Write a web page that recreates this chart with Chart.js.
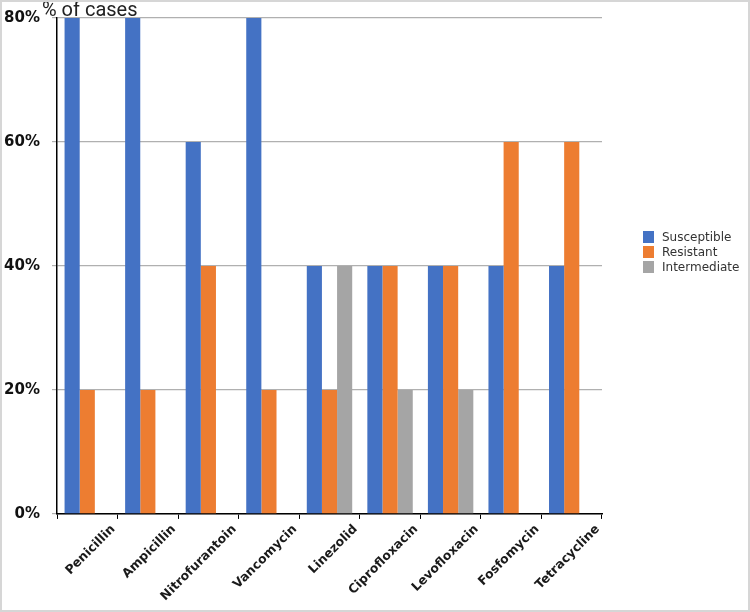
<!DOCTYPE html>
<html>
<head>
<meta charset="utf-8">
<script src="https://cdn.jsdelivr.net/npm/chart.js@4.4.1/dist/chart.umd.min.js"></script>
<style>
  html, body { margin: 0; padding: 0; background: #fff; }
  #wrap { position: relative; width: 750px; height: 612px; }
  #frame { position: absolute; left: 0; top: 0; width: 750px; height: 612px; box-sizing: border-box;
           border: 2px solid #d6d6d6; pointer-events: none; }
</style>
</head>
<body>
<div id="wrap">
  <canvas id="abxChart" width="750" height="612"></canvas>
  <div id="frame"></div>
</div>
<script>
// antibiotics on the x axis
const drugs = ['Penicillin', 'Ampicillin', 'Nitrofurantoin', 'Vancomycin', 'Linezolid',
               'Ciprofloxacin', 'Levofloxacin', 'Fosfomycin', 'Tetracycline'];

// % of cases per outcome
const susceptible  = [80, 80, 60, 80, 40, 40, 40, 40, 40];
const resistant    = [20, 20, 40, 20, 20, 40, 40, 60, 60];
const intermediate = [0, 0, 0, 0, 40, 20, 20, 0, 0];

const yTicks = [0, 20, 40, 60, 80];

// draws the "% of cases" caption and the legend on the right
const extras = {
    id: 'extras',
    afterDraw(chart) {
        const ctx = chart.ctx;
        const area = chart.chartArea;
        ctx.save();
        ctx.fillStyle = '#222';
        ctx.font = '20px Roboto, "Liberation Sans", Arial, sans-serif';
        ctx.textAlign = 'left';
        ctx.textBaseline = 'alphabetic';
        ctx.fillText('% of cases', 42, 16);

        ctx.font = '12px "DejaVu Sans", Verdana, sans-serif';
        ctx.textBaseline = 'middle';
        chart.data.datasets.forEach(function(ds, i) {
            const y = 237 + i * 15;
            ctx.fillStyle = ds.backgroundColor;
            ctx.fillRect(area.right + 41, y - 6, 11, 12);
            ctx.fillStyle = '#333';
            ctx.fillText(ds.label, area.right + 60, y + 1);
        });
        ctx.restore();
    }
};

const ctx = document.getElementById('abxChart').getContext('2d');
new Chart(ctx, {
    type: 'bar',
    data: {
        labels: drugs,
        datasets: [
            { label: 'Susceptible', data: susceptible, backgroundColor: '#4472C4' },
            { label: 'Resistant', data: resistant, backgroundColor: '#ED7D31' },
            { label: 'Intermediate', data: intermediate, backgroundColor: '#A5A5A5' }
        ]
    },
    options: {
        responsive: false,
        animation: false,
        layout: { padding: { left: 4, top: 18, right: 148, bottom: 5 } },
        datasets: { bar: { categoryPercentage: 0.75, barPercentage: 1.0 } },
        plugins: {
            legend: { display: false },
            tooltip: { enabled: false }
        },
        scales: {
            x: {
                afterFit(scale) {
                    // rotated labels should not push the plot area to the right
                    scale.paddingLeft = 0;
                    scale.paddingRight = 0;
                },
                grid: { drawOnChartArea: false, drawTicks: true, tickLength: 5, color: '#000' },
                border: { color: '#000', width: 1.5 },
                ticks: {
                    color: '#1a1a1a',
                    font: { family: '"DejaVu Sans", Verdana, sans-serif', size: 12.5, weight: 'bold' },
                    minRotation: 45,
                    maxRotation: 45,
                    labelOffset: 26,
                    padding: 3
                }
            },
            y: {
                min: 0,
                max: 80,
                afterBuildTicks(scale) {
                    scale.ticks = yTicks.map(v => ({ value: v }));
                },
                afterFit(scale) {
                    scale.width = 53;
                    scale.paddingTop = 0;
                    scale.paddingBottom = 0;
                },
                grid: { color: '#b0b0b0', lineWidth: 1.2, tickLength: 5 },
                border: { color: '#000', width: 1.5 },
                ticks: {
                    color: '#111',
                    padding: 12,
                    font: { family: '"DejaVu Sans", Verdana, sans-serif', size: 15, weight: 'bold' },
                    callback: v => v + '%'
                }
            }
        }
    },
    plugins: [extras]
});
</script>
</body>
</html>
